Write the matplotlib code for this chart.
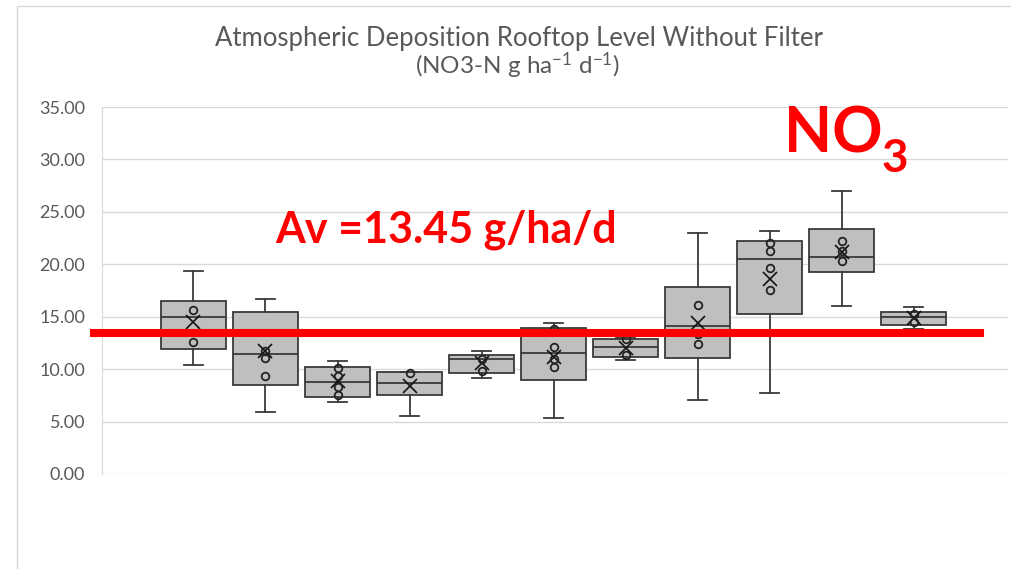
import matplotlib.pyplot as plt
from matplotlib.patches import Rectangle

plt.rcParams["font.family"] = ["Lato", "DejaVu Sans"]
plt.rcParams["mathtext.fontset"] = "custom"
plt.rcParams["mathtext.rm"] = "Lato"
plt.rcParams["mathtext.it"] = "Lato:italic"
plt.rcParams["mathtext.bf"] = "Lato:bold"

# NO3-N deposition per sampling campaign (g/ha/d)
campaigns = list(range(1, 12))
whisker_low = [10.37, 5.88, 6.84, 5.53, 9.18, 5.34, 10.87, 7.03, 7.70, 15.99, 13.83]
q1 = [11.95, 8.49, 7.37, 7.53, 9.60, 8.96, 11.19, 11.03, 15.30, 19.26, 14.21]
median = [15.00, 11.42, 8.77, 8.68, 10.97, 11.51, 12.08, 14.14, 20.48, 20.72, 15.00]
q3 = [16.53, 15.45, 10.18, 9.70, 11.32, 13.92, 12.90, 17.83, 22.25, 23.34, 15.45]
whisker_high = [19.36, 16.72, 10.75, 9.76, 11.70, 14.40, 12.94, 23.01, 23.17, 27.02, 15.95]
means = [14.52, 11.73, 8.90, 8.39, 10.56, 11.13, 12.05, 14.37, 18.57, 21.17, 14.85]
inner_points = [
    [15.64, 12.56],
    [11.73, 11.03, 9.35],
    [10.08, 9.35, 8.33, 7.53],
    [9.66],
    [10.97, 9.85],
    [13.80, 12.08, 10.94, 10.18],
    [12.87, 11.32],
    [16.09, 13.35, 12.43],
    [22.07, 21.29, 19.62, 17.55],
    [22.22, 21.27, 20.31],
    [14.52, 15.30],
]
average = 13.45
yticks = [0, 5, 10, 15, 20, 25, 30, 35]

stats = []
for i in range(len(campaigns)):
    stats.append(dict(whislo=whisker_low[i], q1=q1[i], med=median[i], q3=q3[i],
                      whishi=whisker_high[i], mean=means[i], fliers=[]))

W, H = 1011, 569
fig = plt.figure(figsize=(W / 100, H / 100), dpi=100)
ax = fig.add_axes([102 / W, 1 - 474 / H, 906 / W, 367 / H])

edge = "#3a3a3a"
ax.bxp(stats, positions=campaigns, widths=0.91, capwidths=0.27,
       showmeans=True, patch_artist=True, zorder=3,
       boxprops=dict(facecolor="#bfbfbf", edgecolor=edge, linewidth=1.3),
       medianprops=dict(color=edge, linewidth=1.3),
       whiskerprops=dict(color=edge, linewidth=1.3),
       capprops=dict(color=edge, linewidth=1.3),
       meanprops=dict(marker="x", markeredgecolor="#111111", markersize=10,
                      markeredgewidth=1.2))

for x, pts in zip(campaigns, inner_points):
    ax.plot([x] * len(pts), pts, "o", mfc="none", mec="#222222", ms=5.5,
            mew=1.3, zorder=4)

# average line across the panel
ax.axhline(average, xmin=-8 / 906, xmax=878 / 906, color="red", lw=5.8,
           clip_on=False, zorder=5)

ax.set_xlim(-0.27, 12.31)
ax.set_ylim(0, 35)
ax.set_yticks(yticks)
ax.set_yticklabels([f"{v:.2f}" for v in yticks], color="#595959", fontsize=13)
ax.set_xticks([])
ax.tick_params(length=0, pad=12)
ax.yaxis.grid(True, color="#d9d9d9", lw=1)
ax.set_axisbelow(True)
for s in ["top", "right", "bottom"]:
    ax.spines[s].set_visible(False)
ax.spines["left"].set_color("#d9d9d9")

fig.text(519 / W, 1 - 45.7 / H, "Atmospheric Deposition Rooftop Level Without Filter",
         ha="center", va="baseline", fontsize=18.5, color="#595959")
fig.text(517 / W, 1 - 74 / H, r"(NO3-N g ha$^{-1}$ d$^{-1}$)",
         ha="center", va="baseline", fontsize=17.5, color="#595959")

fig.text(275 / W, 1 - 242 / H, f"Av ={average:.2f} g/ha/d", ha="left",
         va="baseline", fontsize=31, fontweight="bold", color="red")
fig.text(784 / W, 1 - 153 / H, "NO", ha="left", va="baseline", fontsize=45,
         fontweight="bold", color="red")
fig.text(882 / W, 1 - 172 / H, "3", ha="left", va="baseline", fontsize=33,
         fontweight="bold", color="red")

# chart frame
fig.add_artist(Rectangle((17 / W, -0.05), 1.1, 1.05 - 6 / H, transform=fig.transFigure,
                         fill=False, edgecolor="#d9d9d9", lw=1))

fig.savefig("out.png", dpi=100, facecolor="white")
